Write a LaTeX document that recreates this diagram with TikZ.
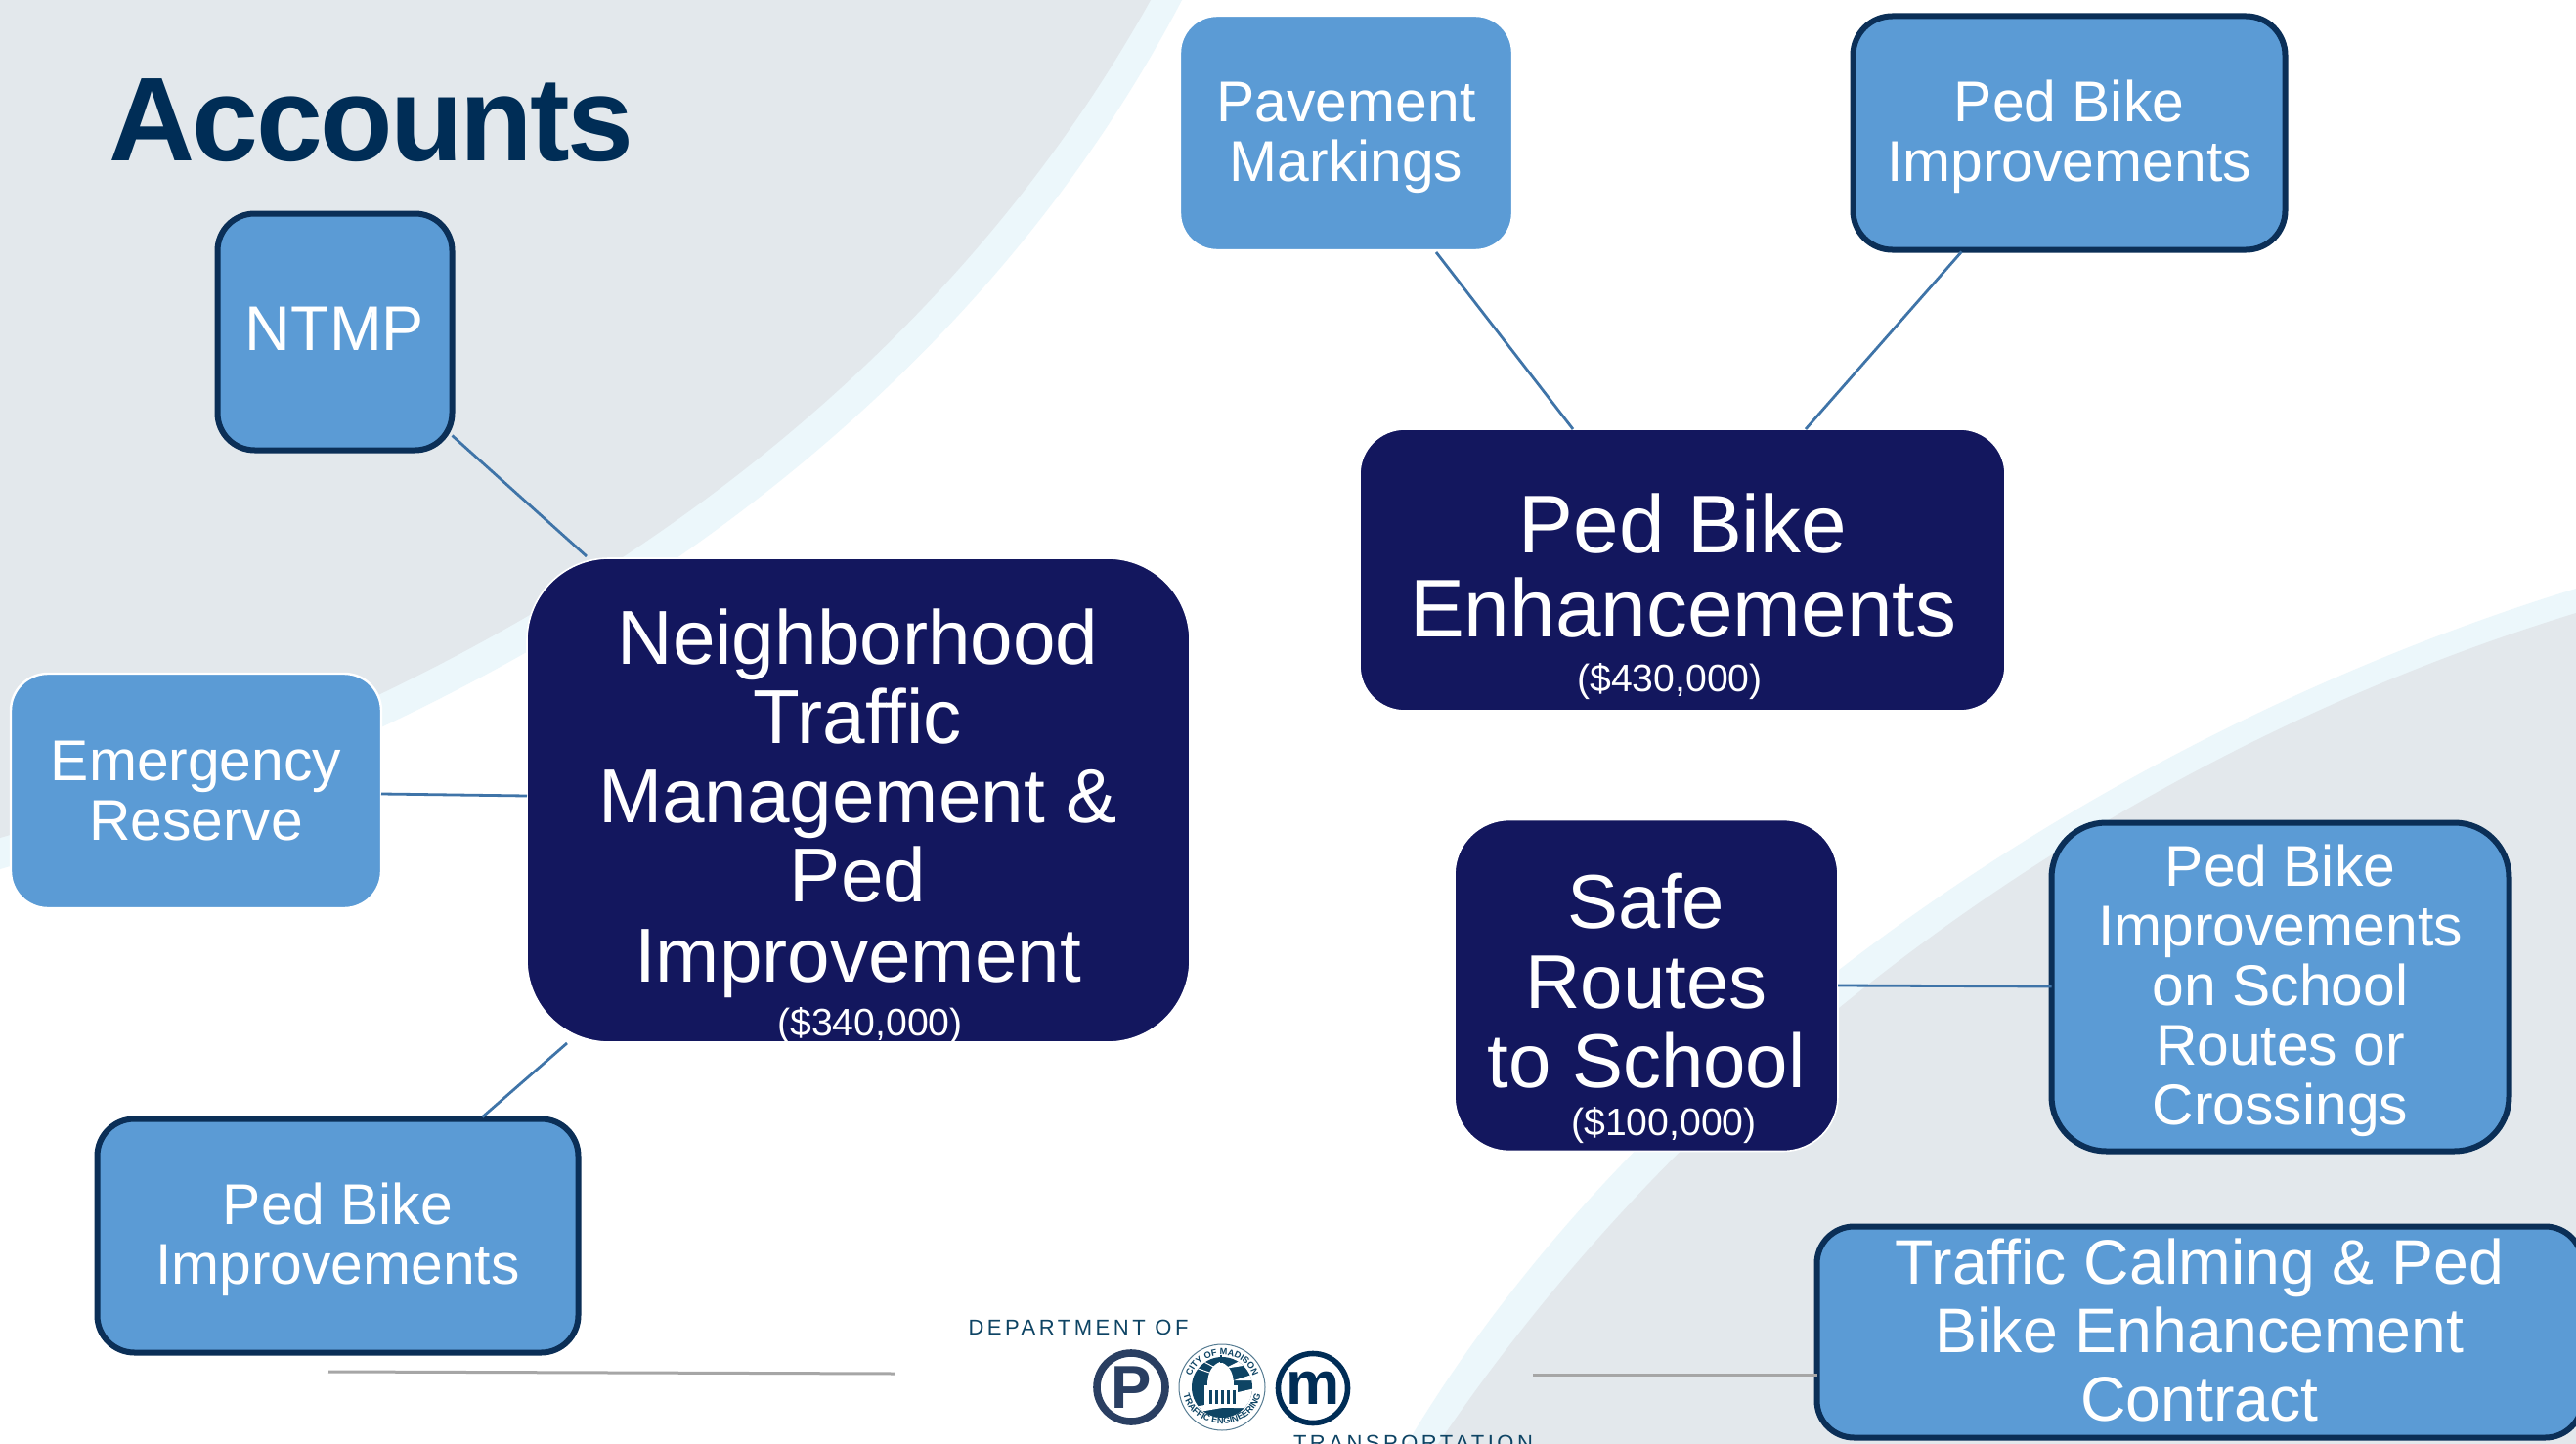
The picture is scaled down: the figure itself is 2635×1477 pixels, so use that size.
\documentclass[tikz,border=0pt]{standalone}
\usepackage{fontspec}
\setmainfont{Liberation Sans}
\newfontfamily\logofont[LetterSpace=16]{Liberation Sans}
\newfontfamily\titlefont[LetterSpace=-2.2]{Liberation Sans}
\usetikzlibrary{calc,decorations.text}
\definecolor{bggray}{HTML}{E3E8EC}
\definecolor{bgband}{HTML}{ECF7FB}
\definecolor{boxblue}{HTML}{5B9BD5}
\definecolor{navy}{HTML}{13175E}
\definecolor{edge}{HTML}{0B2F57}
\definecolor{titlec}{HTML}{002D56}
\definecolor{link}{HTML}{3F74A8}
\definecolor{seal}{HTML}{0E4464}
\definecolor{pcol}{HTML}{2A3F62}
\definecolor{footc}{HTML}{A6A6A6}
\newcommand\fs[2]{\fontsize{#1}{#2}\selectfont}
\tikzset{
  wh/.style 2 args={minimum width=#1*0.5pt, minimum height=#2*0.5pt},
  basebox/.style={inner sep=0pt, outer sep=0pt, align=center, text=white},
  blueplain/.style={basebox, fill=boxblue, draw=white, line width=1.2pt, font=\fs{29.4}{30.5}},
  blueedge/.style={basebox, fill=boxblue, draw=edge, line width=3pt, font=\fs{29.4}{30.5}},
  navybox/.style={basebox, fill=navy, draw=white, line width=0.8pt},
  boxtext/.style={inner sep=0pt, align=center, text=white},
  amount/.style={inner sep=0pt, text=white, font=\fs{19.6}{20}},
  conn/.style={draw=link, line width=1.4pt},
  footline/.style={draw=footc, line width=1.5pt},
  logotext/.style={inner sep=0pt, anchor=base, text=seal, font=\logofont\fs{11}{12}},
}
\begin{document}
\begin{tikzpicture}[x=0.5pt,y=-0.5pt]
\useasboundingbox (0,0) rectangle (2635,1477);
\clip (0,0) rectangle (2635,1477);
\fill[white] (0,0) rectangle (2635,1477);
% background swooshes
\fill[bgband] (0,0) -- (1209,0) .. controls (1000,400) and (590,720) .. (0,889) -- cycle;
\fill[bggray] (0,0) -- (1177,0) .. controls (960,390) and (560,695) .. (0,857) -- cycle;
\fill[bgband] (2635,1477) -- (2635,602) .. controls (2200,735) and (1700,1040) .. (1439,1477) -- cycle;
\fill[bggray] (2635,1477) -- (2635,627) .. controls (2200,760) and (1760,1050) .. (1471,1477) -- cycle;
% title
\node[inner sep=0pt, anchor=base west, text=titlec, font=\titlefont\fs{61}{62}\bfseries] (title) at (111,164) {Accounts};
% footer
\coordinate (fla) at (336,1403);
\coordinate (flb) at (915,1405);
\coordinate (fra) at (1568,1406);
\draw[footline] (fla) -- (flb);
% nodes
\node[navybox, rounded corners=42pt, wh={678}{495}] (main) at (878,818.5) {};
\node[boxtext, font=\fs{39.15}{40.6}] (maintext) at (877.5,821.5) {Neighborhood\\Traffic\\Management \&\\Ped\\Improvement};
\node[amount] (mainamt) at (890,1049) {(\$340,000)};
\node[blueedge, rounded corners=19pt, wh={240}{242}, font=\fs{32.3}{34}] (ntmp) at (342.5,339.5) {NTMP\rule[-3pt]{0pt}{0pt}};
\node[blueplain, rounded corners=19pt, wh={379}{240}] (emer) at (200.5,809) {Emergency\\Reserve};
\node[blueedge, rounded corners=19pt, wh={492}{239}] (pedl) at (345.5,1264) {\rule{0pt}{24.8pt}Ped Bike\\Improvements};
\node[blueplain, rounded corners=19pt, wh={340}{240}] (pave) at (1377,136) {\rule{0pt}{25.4pt}Pavement\\Markings};
\node[blueedge, rounded corners=20pt, wh={442}{239}] (pedt) at (2116.5,136) {\rule{0pt}{25.4pt}Ped Bike\\Improvements};
\node[navybox, rounded corners=23pt, wh={660}{288}] (enh) at (1721,583) {};
\node[boxtext, font=\fs{41.9}{43.3}] (enhtext) at (1721.5,578.5) {Ped Bike\\Enhancements};
\node[amount] (enhamt) at (1708,697) {(\$430,000)};
\node[navybox, rounded corners=28pt, wh={392}{339}] (safe) at (1684,1008) {};
\node[boxtext, font=\fs{39}{40.7}] (safetext) at (1684,1003.5) {Safe\\Routes\\to School};
\node[amount] (safeamt) at (1702,1151) {(\$100,000)};
\node[blueedge, rounded corners=28pt, wh={468}{336}] (school) at (2332.5,1009.5) {\rule{0pt}{24.8pt}Ped Bike\\Improvements\\on School\\Routes or\\Crossings};
\node[blueedge, rounded corners=19pt, wh={783}{216}, font=\fs{32.2}{35}] (calm) at (2250,1362.5) {Traffic Calming \& Ped\\Bike Enhancement\\Contract\rule[-2.5pt]{0pt}{0pt}};
% connectors
\draw[conn] ($(ntmp.south east)+(0,-15)$) -- ($(main.north west)+(61,-2)$);
\draw[conn] (emer.east |- 0,812) -- (main.west |- 0,814);
\draw[conn] ($(main.south west)+(41,1)$) -- ($(pedl.north east)+(-98,-2)$);
\draw[conn] ($(pave.south west)+(262,2)$) -- ($(enh.north west)+(218,0)$);
\draw[conn] ($(pedt.south west)+(111,2)$) -- ($(enh.north west)+(456,0)$);
\draw[conn] (safe.east |- 0,1008) -- (school.west |- 0,1009);
\draw[footline] (fra) -- (calm.west |- fra);
% logo
\node[logotext] (dept) at (1103,1365) {DEPARTMENT OF};
\node[logotext] (transp) at (1445.5,1483) {TRANSPORTATION};
\node[circle, draw=pcol, line width=3.8pt, inner sep=0pt, outer sep=0pt, minimum size=35pt, text=pcol, font=\fs{31}{31}\bfseries] (plogo) at (1157,1419) {P};
\node[circle, draw=titlec, line width=2.8pt, inner sep=0pt, outer sep=0pt, minimum size=35.5pt, text=titlec, font=\fs{31}{31}\bfseries] (mlogo) at (1343,1420) {m};
% seal
\node[circle, draw=seal!70, line width=0.5pt, fill=white, inner sep=0pt, outer sep=0pt, minimum size=44pt] (sealc) at (1250,1419) {};
\begin{scope}
\clip (1250,1419) circle[radius=31];
\fill[seal] (1218,1387) rectangle (1282,1451);
\fill[white] (1252,1400) -- (1282,1385) -- (1284,1395) -- cycle;
\fill[white] (1262,1412) -- (1284,1405) -- (1284,1412) -- cycle;
\fill[white] (1262,1425) -- (1284,1420) -- (1284,1440) -- (1262,1440) -- cycle;
\fill[white] (1215,1440) -- (1285,1428) -- (1285,1434) -- (1215,1446) -- cycle;
\draw[white, line width=0.5pt] (1245,1400) -- (1226,1390) (1240,1405) -- (1220,1398);
\end{scope}
\fill[white] (1235,1417) .. controls (1235,1400) and (1243,1395) .. (1248,1393) .. controls (1254,1395) and (1262,1400) .. (1262,1417) -- cycle;
\fill[white] (1232,1417) rectangle (1266,1440);
\foreach \xc in {1237,1243,1249,1255,1261}{\fill[seal] (\xc,1422) rectangle ++(2.6,14);}
\fill[seal] (1248,1386) rectangle ++(2,8);
\fill[seal] (1242,1444) rectangle ++(14,5);
\path[decorate, decoration={text along path, text align=center, text={|\fs{4.6}{6}\bfseries\color{seal}|CITY OF MADISON}}] (1217,1419) .. controls (1217,1375) and (1283,1375) .. (1283,1419);
\path[decorate, decoration={text along path, text align=center, text={|\fs{4.6}{6}\bfseries\color{seal}|TRAFFIC ENGINEERING}}] (1209,1415) .. controls (1209,1470) and (1291,1470) .. (1291,1415);
\end{tikzpicture}
\end{document}
